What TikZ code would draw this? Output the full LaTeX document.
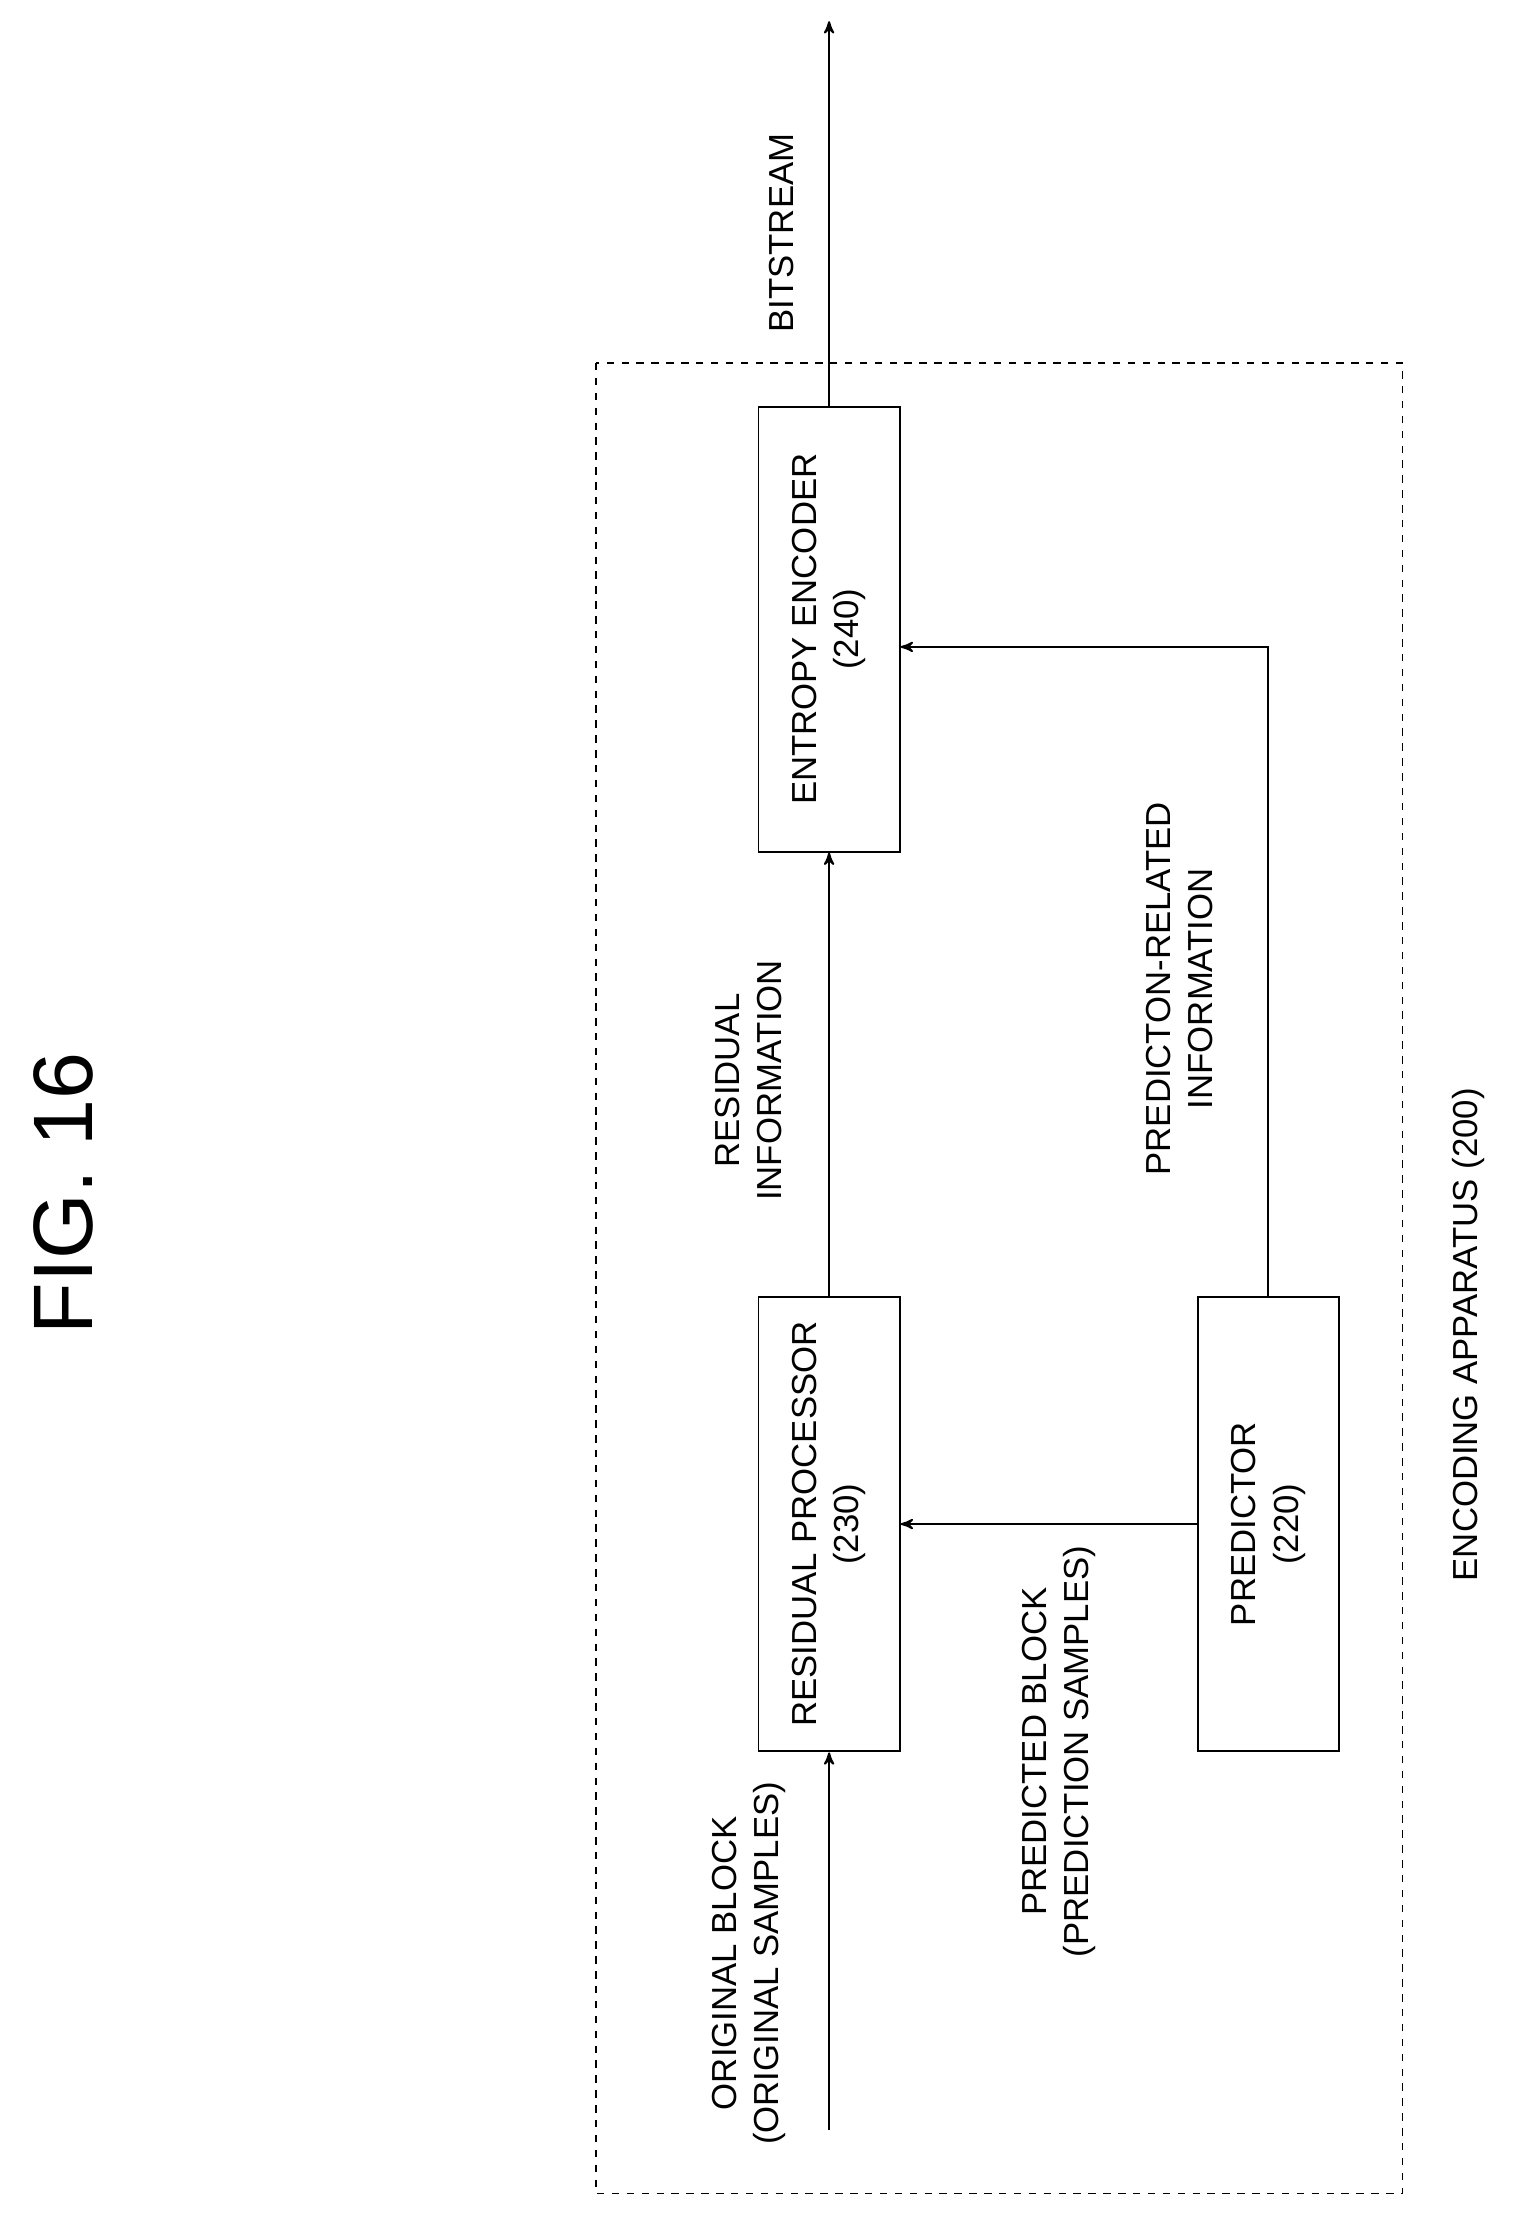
\documentclass[tikz,border=0pt]{standalone}
\usepackage{fontspec}
\setmainfont{Liberation Sans}
\usetikzlibrary{arrows,positioning}
\begin{document}
\begin{tikzpicture}[x=0.02cm, y=-0.02cm, >=stealth', line width=0.8pt,
  block/.style={draw, rectangle, rotate=90, minimum width=#1, minimum height=2cm, align=center, font=\fontsize{14}{17}\selectfont},
  lbl/.style={rotate=90, align=center, font=\fontsize{14}{17}\selectfont}]
\useasboundingbox (0,0) rectangle (1080,1576);
% title
\node[rotate=90, font=\fontsize{34}{40}\selectfont] (fig) at (45,845) {FIG. 16};
% apparatus frame
\draw[dashed, line width=0.6pt] (422,257) rectangle (993,1553);
\node[lbl] (app) at (1040,945) {ENCODING APPARATUS (200)};
% blocks
\node[block=6.44cm] (res) at (587,1079) {RESIDUAL PROCESSOR\\(230)};
\node[block=6.44cm] (pred) at (898,1079) {PREDICTOR\\(220)};
\node[block=6.3cm] (ent) at (587,445.5) {ENTROPY ENCODER\\(240)};
% connectors
\coordinate (in) at (587,1508);
\coordinate (out) at (587,15);
\coordinate (turn) at (898,458);
\draw[->] (in) -- (res.west);
\draw[->] (ent.east) -- (out);
\draw[->] (res.east) -- (ent.west);
\draw[->] (pred.north) -- (res.south |- pred.north);
\draw[->] (pred.east) -- (turn) -- (ent.south |- turn);
% labels
\node[lbl] (bits) at (553,165) {BITSTREAM};
\node[lbl] (resinfo) at (530,765) {RESIDUAL\\INFORMATION};
\node[lbl] (predinfo) at (835,700) {PREDICTON-RELATED\\INFORMATION};
\node[lbl] (orig) at (530,1390) {ORIGINAL BLOCK\\(ORIGINAL SAMPLES)};
\node[lbl] (predblk) at (750,1240) {PREDICTED BLOCK\\(PREDICTION SAMPLES)};
\end{tikzpicture}
\end{document}
